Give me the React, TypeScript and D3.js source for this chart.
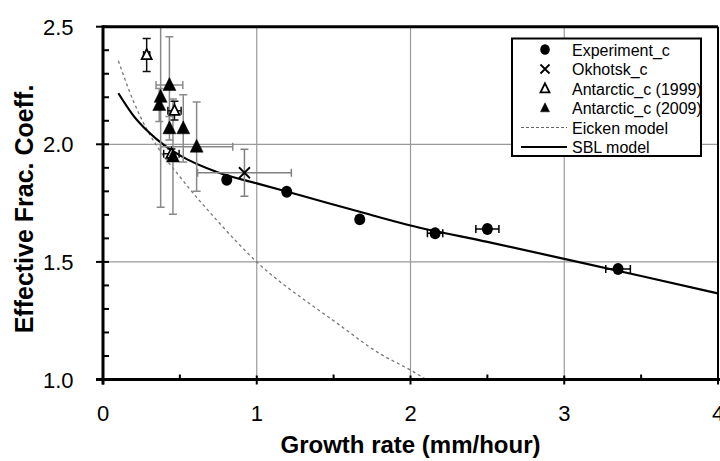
import React, { useRef, useEffect } from 'react'
import * as d3 from 'd3'

// values (x = growth rate mm/h, y = coefficient)
const experiment = [
  { x: 0.805, y: 1.849, xe: 0, ye: 0.012 },
  { x: 1.195, y: 1.798, xe: 0, ye: 0.012 },
  { x: 1.67, y: 1.681, xe: 0, ye: 0.012 },
  { x: 2.16, y: 1.622, xe: 0.05, ye: 0.012 },
  { x: 2.5, y: 1.64, xe: 0.075, ye: 0.012 },
  { x: 3.35, y: 1.47, xe: 0.08, ye: 0.012 },
]
const okhotsk = [{ x: 0.92, y: 1.879, xe: 0.305, ye: 0.1 }]
const antarctic1999 = [
  { x: 0.284, y: 2.38, xe: 0.02, ye: 0.07 },
  { x: 0.465, y: 2.143, xe: 0.043, ye: 0.04 },
  { x: 0.445, y: 1.96, xe: 0.05, ye: 0.02 },
]
const antarctic2009 = [
  { x: 0.432, y: 2.252, xe: 0.087, ye: 0.205 },
  { x: 0.375, y: 2.202, xe: 0, ye: 0.47 },
  { x: 0.366, y: 2.167, xe: 0, ye: 0.07 },
  { x: 0.432, y: 2.068, xe: 0, ye: 0.05 },
  { x: 0.522, y: 2.068, xe: 0, ye: 0.143 },
  { x: 0.609, y: 1.99, xe: 0.235, ye: 0.19 },
  { x: 0.455, y: 1.948, xe: 0, ye: 0.245 },
]
const eickenModel: [number, number][] = [
  [0.1, 2.355], [0.2, 2.18], [0.28, 2.07], [0.36, 1.983], [0.5, 1.862],
  [0.75, 1.67], [1.0, 1.5], [1.37, 1.31], [1.5, 1.25], [1.8, 1.11],
  [2.0, 1.04], [2.15, 0.98],
]
const sblModel: [number, number][] = [
  [0.1, 2.217], [0.2, 2.12], [0.3, 2.05], [0.4, 1.995], [0.5, 1.953],
  [0.75, 1.88], [1.0, 1.834], [1.3, 1.78], [1.67, 1.713], [2.0, 1.655],
  [2.5, 1.585], [3.0, 1.513], [3.5, 1.44], [4.0, 1.366],
]
const xTicks = [0, 1, 2, 3, 4]
const yTicks = [1.0, 1.5, 2.0, 2.5]
const legendLabels = ['Experiment_c', 'Okhotsk_c', 'Antarctic_c (1999)', 'Antarctic_c (2009)', 'Eicken model', 'SBL model']
const legendKinds = ['circle', 'cross', 'openTri', 'tri', 'dash', 'line']

const FONT = "'Liberation Sans', Arial, sans-serif"

function App() {
  const svgRef = useRef<SVGSVGElement>(null)

  useEffect(() => {
    const width = 720, height = 461
    const svg = d3.select(svgRef.current).attr('width', width).attr('height', height)
    svg.selectAll('*').remove()

    const x = d3.scaleLinear().domain([0, 4]).range([103, 718])
    const y = d3.scaleLinear().domain([1, 2.5]).range([379.5, 26.7])

    svg.append('defs').append('clipPath').attr('id', 'plotclip')
      .append('rect').attr('x', x(0)).attr('y', y(2.5)).attr('width', x(4) - x(0)).attr('height', y(1) - y(2.5))

    // grid
    const grid = svg.append('g')
    grid.selectAll('line.gx').data([1, 2, 3]).join('line')
      .attr('x1', d => x(d)).attr('x2', d => x(d)).attr('y1', y(1)).attr('y2', y(2.5))
      .attr('stroke', '#999').attr('stroke-width', 1.2)
    grid.selectAll('line.gy').data([1.5, 2.0]).join('line')
      .attr('x1', x(0)).attr('x2', x(4)).attr('y1', d => y(d)).attr('y2', d => y(d))
      .attr('stroke', '#999').attr('stroke-width', 1.2)

    const plot = svg.append('g').attr('clip-path', 'url(#plotclip)')

    const line = d3.line<[number, number]>().x(d => x(d[0])).y(d => y(d[1])).curve(d3.curveMonotoneX)
    plot.append('path').attr('d', line(eickenModel)).attr('fill', 'none')
      .attr('stroke', '#777').attr('stroke-width', 1.3).attr('stroke-dasharray', '3,3')
    plot.append('path').attr('d', line(sblModel)).attr('fill', 'none')
      .attr('stroke', '#000').attr('stroke-width', 2.2)

    const errBars = (data: any[], color: string) => {
      const cap = 4
      data.forEach(d => {
        const g = plot.append('g').attr('stroke', color).attr('stroke-width', 1.5)
        if (d.ye > 0) {
          g.append('line').attr('x1', x(d.x)).attr('x2', x(d.x)).attr('y1', y(d.y - d.ye)).attr('y2', y(d.y + d.ye))
          ;[d.y - d.ye, d.y + d.ye].forEach(v => g.append('line')
            .attr('x1', x(d.x) - cap).attr('x2', x(d.x) + cap).attr('y1', y(v)).attr('y2', y(v)))
        }
        if (d.xe > 0) {
          g.append('line').attr('x1', x(d.x - d.xe)).attr('x2', x(d.x + d.xe)).attr('y1', y(d.y)).attr('y2', y(d.y))
          ;[d.x - d.xe, d.x + d.xe].forEach(v => g.append('line')
            .attr('x1', x(v)).attr('x2', x(v)).attr('y1', y(d.y) - cap).attr('y2', y(d.y) + cap))
        }
      })
    }

    const marker = (g: any, kind: string, cx: number, cy: number, s: number) => {
      if (kind === 'circle') {
        g.append('ellipse').attr('cx', cx).attr('cy', cy).attr('rx', s).attr('ry', s * 1.08).attr('fill', '#000')
      } else if (kind === 'cross') {
        g.append('path').attr('d', `M${cx - s},${cy - s}L${cx + s},${cy + s}M${cx - s},${cy + s}L${cx + s},${cy - s}`)
          .attr('stroke', '#000').attr('stroke-width', 1.8)
      } else if (kind === 'tri' || kind === 'openTri') {
        const p = `M${cx},${cy - s * 1.15}L${cx + s},${cy + s * 0.85}L${cx - s},${cy + s * 0.85}Z`
        g.append('path').attr('d', p)
          .attr('fill', kind === 'tri' ? '#000' : '#fff')
          .attr('stroke', '#000').attr('stroke-width', kind === 'tri' ? 0.5 : 1.8)
      }
    }

    errBars(okhotsk, '#808080')
    errBars(antarctic2009, '#8a8a8a')
    errBars(antarctic1999, '#111')
    errBars(experiment, '#000')

    okhotsk.forEach(d => marker(plot, 'cross', x(d.x), y(d.y), 5.5))
    antarctic1999.forEach(d => marker(plot, 'openTri', x(d.x), y(d.y), 5))
    antarctic2009.forEach(d => marker(plot, 'tri', x(d.x), y(d.y), 6.5))
    experiment.forEach(d => marker(plot, 'circle', x(d.x), y(d.y), 5.5))

    // frame
    svg.append('line').attr('x1', x(0)).attr('x2', x(4)).attr('y1', y(2.5)).attr('y2', y(2.5))
      .attr('stroke', '#000').attr('stroke-width', 3)
    svg.append('line').attr('x1', x(4)).attr('x2', x(4)).attr('y1', y(2.5)).attr('y2', y(1))
      .attr('stroke', '#000').attr('stroke-width', 2)

    // x axis
    const xAxis = svg.append('g')
    xAxis.append('line').attr('x1', x(0) - 7).attr('x2', x(4) + 2).attr('y1', y(1)).attr('y2', y(1))
      .attr('stroke', '#000').attr('stroke-width', 3)
    xAxis.selectAll('line.maj').data(xTicks).join('line')
      .attr('x1', d => x(d)).attr('x2', d => x(d)).attr('y1', y(1) - 4).attr('y2', y(1) + 5)
      .attr('stroke', '#000').attr('stroke-width', 2)
    xAxis.selectAll('line.min').data([0.5, 1.5, 2.5, 3.5]).join('line')
      .attr('x1', d => x(d)).attr('x2', d => x(d)).attr('y1', y(1) - 5).attr('y2', y(1))
      .attr('stroke', '#000').attr('stroke-width', 2)
    xAxis.selectAll('text').data(xTicks).join('text')
      .attr('x', d => x(d)).attr('y', 421).attr('text-anchor', 'middle')
      .attr('font-family', FONT).attr('font-size', 22).text(d => String(d))
    xAxis.append('text').attr('x', (x(0) + x(4)) / 2).attr('y', 453).attr('text-anchor', 'middle')
      .attr('font-family', FONT).attr('font-size', 24).attr('font-weight', 'bold').text('Growth rate (mm/hour)')

    // y axis
    const yAxis = svg.append('g')
    yAxis.append('line').attr('x1', x(0)).attr('x2', x(0)).attr('y1', y(2.5) - 1.5).attr('y2', y(1) + 5)
      .attr('stroke', '#000').attr('stroke-width', 3)
    const minor = d3.range(11, 25).map(v => v / 10).filter(v => Math.abs(v * 2 - Math.round(v * 2)) > 1e-6)
    yAxis.selectAll('line.min').data(minor).join('line')
      .attr('x1', x(0)).attr('x2', x(0) + 6).attr('y1', d => y(d)).attr('y2', d => y(d))
      .attr('stroke', '#000').attr('stroke-width', 2)
    yAxis.selectAll('line.maj').data(yTicks).join('line')
      .attr('x1', x(0) - 7).attr('x2', x(0) + 6).attr('y1', d => y(d)).attr('y2', d => y(d))
      .attr('stroke', '#000').attr('stroke-width', 2)
    yAxis.selectAll('text').data(yTicks).join('text')
      .attr('x', 73.5).attr('y', d => y(d) + 8).attr('text-anchor', 'end')
      .attr('font-family', FONT).attr('font-size', 22).text(d => d.toFixed(1))
    yAxis.append('text').attr('transform', 'translate(33,209) rotate(-90)').attr('text-anchor', 'middle')
      .attr('font-family', FONT).attr('font-size', 25).attr('font-weight', 'bold').text('Effective Frac. Coeff.')

    // legend
    const lg = svg.append('g')
    lg.append('rect').attr('x', 512).attr('y', 38.5).attr('width', 189).attr('height', 117.5)
      .attr('fill', '#fff').attr('stroke', '#000').attr('stroke-width', 2)
    legendLabels.forEach((label, i) => {
      const cy = 49.5 + i * 19.5
      const k = legendKinds[i]
      if (k === 'dash') {
        lg.append('line').attr('x1', 521).attr('x2', 567).attr('y1', cy).attr('y2', cy)
          .attr('stroke', '#666').attr('stroke-width', 1.2).attr('stroke-dasharray', '3,2')
      } else if (k === 'line') {
        lg.append('line').attr('x1', 521).attr('x2', 567).attr('y1', cy).attr('y2', cy)
          .attr('stroke', '#000').attr('stroke-width', 2)
      } else {
        marker(lg, k, 545, cy, k === 'circle' ? 4.8 : 4.5)
      }
      lg.append('text').attr('x', 572).attr('y', cy + 6).attr('font-family', FONT)
        .attr('font-size', 16).text(label)
    })
  }, [])

  return (
    <svg ref={svgRef} style={{ position: 'absolute', left: 0, top: 0, background: '#fff' }}></svg>
  )
}

export default App
